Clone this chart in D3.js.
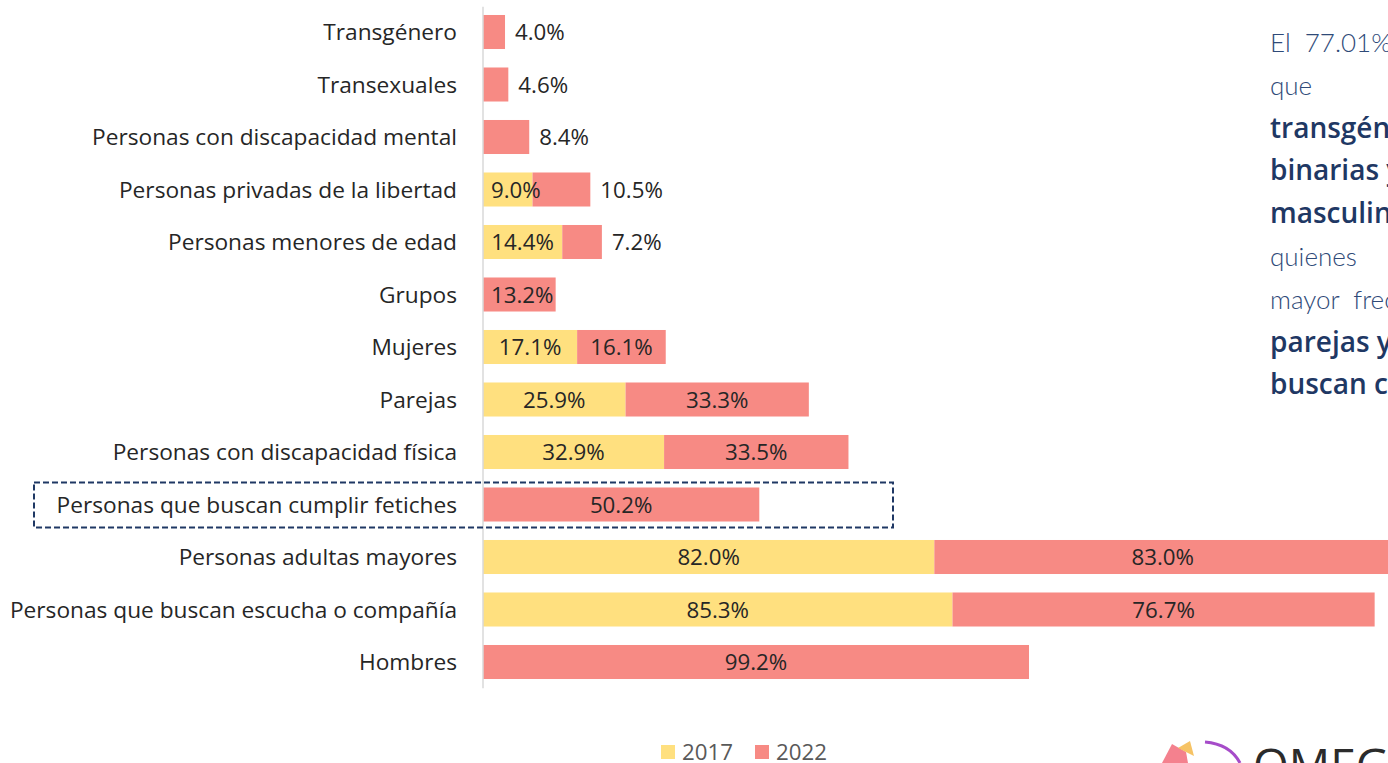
<!DOCTYPE html>
<html>
<head>
<meta charset="utf-8">
<script src="https://cdn.jsdelivr.net/npm/d3@7"></script>
<style>
    body { margin: 0; background: #fff; }
    svg { display: block; font-family: "Open Sans", "Noto Sans", sans-serif; }
    .note text { white-space: pre; }
</style>
</head>
<body>
<div id="chart"></div>
<script>
// Categories from top to bottom
const categories = [
    "Transgénero",
    "Transexuales",
    "Personas con discapacidad mental",
    "Personas privadas de la libertad",
    "Personas menores de edad",
    "Grupos",
    "Mujeres",
    "Parejas",
    "Personas con discapacidad física",
    "Personas que buscan cumplir fetiches",
    "Personas adultas mayores",
    "Personas que buscan escucha o compañía",
    "Hombres"
]

// null = no value that year
const values2017 = [null, null, null, 9.0, 14.4, null, 17.1, 25.9, 32.9, null, 82.0, 85.3, null]
const values2022 = [4.0, 4.6, 8.4, 10.5, 7.2, 13.2, 16.1, 33.3, 33.5, 50.2, 83.0, 76.7, 99.2]

const years = ["2017", "2022"]
const colours = ["#FFE07F", "#F78A84"]

const highlighted = "Personas que buscan cumplir fetiches"

// Side note text (clipped at the right edge like the original, justified spacing)
const noteLines = [
    { text: "El  77.01%  de  las  personas", bold: false },
    { text: "que            contratan", bold: false },
    { text: "transgénero, no", bold: true },
    { text: "binarias y", bold: true },
    { text: "masculinas son", bold: true },
    { text: "quienes         solicitan", bold: false },
    { text: "mayor  frecuencia  las", bold: false },
    { text: "parejas y quienes", bold: true },
    { text: "buscan cumplir fetiches", bold: true }
]

drawChart()

function drawChart() {
    const W = 1388, H = 763

    const svg = d3.select("#chart")
        .append("svg")
        .attr("width", W)
        .attr("height", H)

    const x = d3.scaleLinear()
        .domain([0, 100])
        .range([483, 483 + 550.4])

    const y = d3.scaleBand()
        .domain(categories)
        .range([5.75, 688.25])
        .paddingInner(0.352)
        .paddingOuter(0.176)

    // build stacked rows
    const rows = categories.map((c, i) => ({
        cat: c,
        v2017: values2017[i] || 0,
        v2022: values2022[i] || 0
    }))

    const stack = d3.stack().keys(["v2017", "v2022"])
    const series = stack(rows)

    // bars
    series.forEach((s, si) => {
        svg.append("g")
            .selectAll("rect")
            .data(s.filter(d => d[1] > d[0]))
            .enter()
            .append("rect")
            .attr("x", d => x(d[0]))
            .attr("y", d => y(d.data.cat))
            .attr("width", d => x(d[1]) - x(d[0]))
            .attr("height", y.bandwidth())
            .attr("fill", colours[si])
    })

    // vertical axis line
    svg.append("line")
        .attr("x1", x(0)).attr("x2", x(0))
        .attr("y1", y.range()[0] + 1).attr("y2", y.range()[1])
        .attr("stroke", "#d9d9d9")
        .attr("stroke-width", 1.5)

    // data labels
    series.forEach((s, si) => {
        svg.append("g")
            .selectAll("text")
            .data(s.filter(d => d[1] > d[0]))
            .enter()
            .append("text")
            .each(function (d) {
                const w = x(d[1]) - x(d[0])
                const inside = si === 0 || w >= 65
                const t = d3.select(this)
                t.attr("y", y(d.data.cat) + y.bandwidth() / 2)
                    .attr("dy", "0.36em")
                    .attr("font-size", 22.3)
                    .attr("fill", "#262626")
                    .text(d3.format(".1f")(d[1] - d[0]) + "%")
                if (inside) {
                    // keep the label from sticking out on the left of a thin bar
                    const tw = this.getComputedTextLength()
                    const cx = Math.max((x(d[0]) + x(d[1])) / 2, x(d[0]) + tw / 2 + 8)
                    t.attr("x", cx).attr("text-anchor", "middle")
                } else {
                    t.attr("x", x(d[1]) + 10).attr("text-anchor", "start")
                }
            })
    })

    // category labels
    svg.append("g")
        .selectAll("text")
        .data(categories)
        .enter()
        .append("text")
        .attr("x", 457)
        .attr("y", d => y(d) + y.bandwidth() / 2)
        .attr("dy", "0.36em")
        .attr("text-anchor", "end")
        .attr("font-size", 22.7)
        .attr("fill", "#262626")
        .text(d => d)

    // dashed highlight box
    svg.append("rect")
        .attr("x", 34)
        .attr("y", y(highlighted) - 5)
        .attr("width", 859)
        .attr("height", y.bandwidth() + 11)
        .attr("fill", "none")
        .attr("stroke", "#1F3864")
        .attr("stroke-width", 2)
        .attr("stroke-dasharray", "6,3")

    // legend
    const legend = svg.append("g")
    const legendX = [661, 755]
    years.forEach((yr, i) => {
        legend.append("rect")
            .attr("x", legendX[i]).attr("y", 745)
            .attr("width", 14).attr("height", 14)
            .attr("fill", colours[i])
        legend.append("text")
            .attr("x", legendX[i] + 21).attr("y", 760)
            .attr("font-size", 22.3)
            .attr("fill", "#595959")
            .text(yr)
    })

    // side note
    const note = svg.append("g").attr("class", "note")
    noteLines.forEach((l, i) => {
        note.append("text")
            .attr("x", 1270)
            .attr("y", 52 + i * 42.8)
            .attr("font-family", l.bold ? "Open Sans, sans-serif" : "Lato, sans-serif")
            .attr("font-size", l.bold ? 28 : 26)
            .attr("font-weight", l.bold ? 600 : 300)
            .attr("fill", l.bold ? "#1F3864" : "#2F4A78")
            .text(l.text)
    })

    // logo fragment, bottom right
    const logo = svg.append("g")
    logo.append("path")
        .attr("d", "M1162,763 L1172,744 L1186,752 L1188,763 Z")
        .attr("fill", "#F26B7A").attr("opacity", 0.85)
    logo.append("path")
        .attr("d", "M1178,748 L1190,741 L1194,756 Z")
        .attr("fill", "#F5B84A").attr("opacity", 0.85)
    logo.append("path")
        .attr("d", "M1205,742 Q1230,744 1240,763")
        .attr("fill", "none")
        .attr("stroke", "#A64CC9")
        .attr("stroke-width", 3)
    logo.append("text")
        .attr("x", 1253).attr("y", 782)
        .attr("font-size", 46)
        .attr("fill", "#2b2b2b")
        .text("OMEGA")
}
</script>
</body>
</html>
